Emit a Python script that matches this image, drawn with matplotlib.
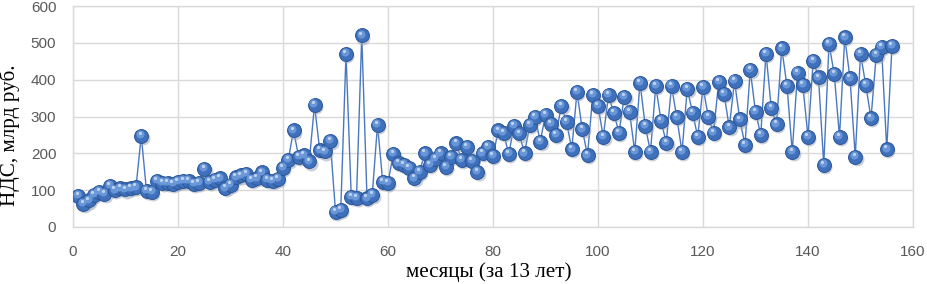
import numpy as np
import matplotlib
matplotlib.use("Agg")
import matplotlib.pyplot as plt
import matplotlib.transforms as mtransforms

# НДС по месяцам, млрд руб. (месяцы 1..156)
vat = [85, 62, 72, 88, 95, 90, 112, 100, 105, 102, 105, 108, 248, 98, 95, 125,
       120, 120, 118, 122, 125, 125, 118, 120, 158, 122, 128, 132, 105, 115, 135,
       140, 145, 128, 132, 148, 128, 125, 130, 160, 182, 262, 190, 195, 178, 331,
       208, 205, 234, 42, 46, 470, 82, 80, 520, 78, 87, 278, 122, 120, 198, 173,
       168, 160, 132, 150, 200, 168, 185, 200, 164, 191, 227, 182, 218, 180, 150,
       200, 218, 193, 262, 256, 198, 274, 254, 200, 277, 300, 232, 305, 280, 250,
       329, 286, 211, 367, 265, 195, 358, 329, 245, 358, 310, 256, 354, 313, 204,
       392, 274, 204, 383, 289, 229, 383, 298, 204, 376, 310, 245, 380, 300, 256,
       395, 362, 271, 396, 292, 223, 426, 313, 250, 471, 324, 279, 485, 383, 204,
       419, 386, 245, 452, 406, 168, 497, 415, 245, 515, 404, 191, 470, 386, 295,
       467, 490, 211, 492]
months = np.arange(1, len(vat) + 1)

x_ticks = [0, 20, 40, 60, 80, 100, 120, 140, 160]
y_ticks = [0, 100, 200, 300, 400, 500, 600]
x_label = "месяцы (за 13 лет)"
y_label = "НДС, млрд руб."

fig = plt.figure(figsize=(9.28, 2.84), dpi=100)
ax = fig.add_axes([73/928, 1-227/284, 840/928, 221/284])

ax.set_xlim(0, 160)
ax.set_ylim(0, 600)
ax.set_xticks(x_ticks)
ax.set_yticks(y_ticks)
ax.grid(True, color="#D9D9D9", linewidth=1.0)
ax.set_axisbelow(True)
for s in ax.spines.values():
    s.set_color("#D9D9D9")
    s.set_linewidth(1.0)
ax.tick_params(length=0, colors="#595959", labelsize=11)
ax.tick_params(axis="y", pad=12)
ax.tick_params(axis="x", pad=13)
for lab in ax.get_xticklabels() + ax.get_yticklabels():
    lab.set_family(["Liberation Sans Narrow", "Liberation Sans", "DejaVu Sans"])

# line
ax.plot(months, vat, color="#4A78C0", linewidth=1.0, zorder=2)
# shadow
shadow = mtransforms.offset_copy(ax.transData, fig=fig, x=1.0, y=-1.5, units="points")
ax.plot(months, vat, linestyle="none", marker="o", markersize=10,
        markerfacecolor="#9AA6B8", markeredgecolor="none", alpha=0.55,
        transform=shadow, zorder=3)
# sphere base
ax.plot(months, vat, linestyle="none", marker="o", markersize=10,
        markerfacecolor="#3F70BC", markeredgecolor="#2B5696", markeredgewidth=0.7,
        zorder=4)
# highlight
hl = mtransforms.offset_copy(ax.transData, fig=fig, x=-0.8, y=1.2, units="points")
ax.plot(months, vat, linestyle="none", marker="o", markersize=5.8,
        markerfacecolor="#6E9BDB", markeredgecolor="none", alpha=0.9,
        transform=hl, zorder=5)
hl2 = mtransforms.offset_copy(ax.transData, fig=fig, x=-1.2, y=2.1, units="points")
ax.plot(months, vat, linestyle="none", marker="o", markersize=2.3,
        markerfacecolor="#C9DBF3", markeredgecolor="none", alpha=0.9,
        transform=hl2, zorder=6)

ax.set_xlabel(x_label, family="Liberation Serif", fontsize=15.2, color="black")
ax.set_ylabel(y_label, family="Liberation Serif", fontsize=15.2, color="black")
ax.xaxis.set_label_coords((489 - 73) / 840, (227 - 272) / 221)
ax.xaxis.label.set_va("center")
ax.yaxis.set_label_coords((10 - 73) / 840, (227 - 135) / 221)
ax.yaxis.label.set_va("center")

fig.savefig("out.png", dpi=100)
